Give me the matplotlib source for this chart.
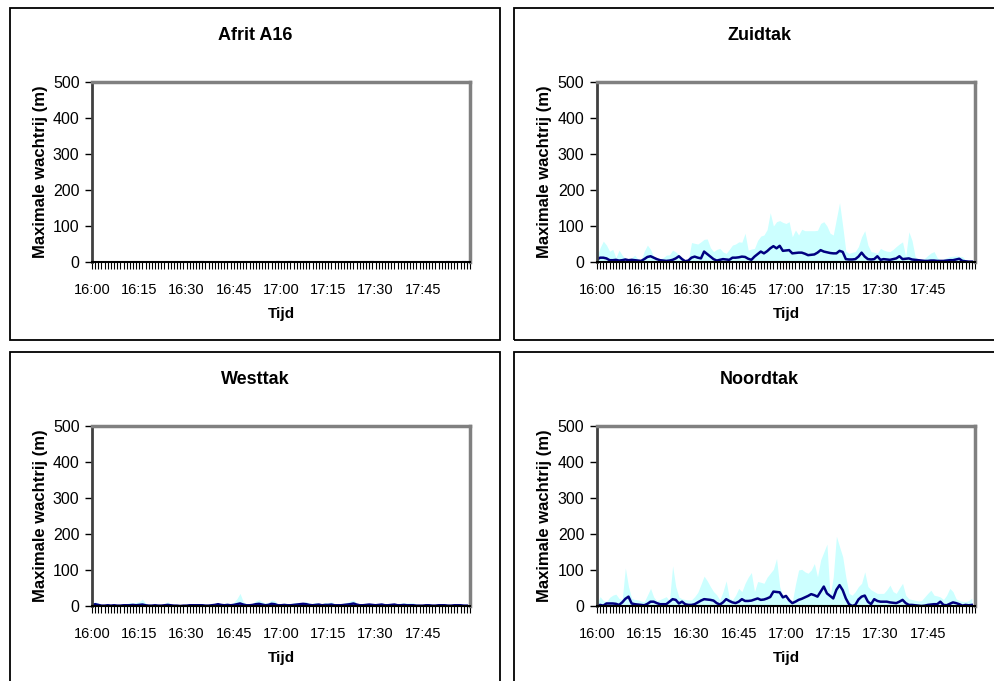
import numpy as np
import matplotlib
matplotlib.use('Agg')
import matplotlib.pyplot as plt
from matplotlib.patches import Rectangle

plt.rcParams['font.family'] = ['Liberation Sans', 'DejaVu Sans']

W, H = 994, 681

tick_labels = ['16:00', '16:15', '16:30', '16:45', '17:00', '17:15', '17:30', '17:45']
titles = ['Afrit A16', 'Zuidtak', 'Westtak', 'Noordtak']

# maximale wachtrij per minuut (vlak) en gemiddelde (lijn); Afrit A16 heeft alleen losse waarnemingen
nan = float('nan')
afrit_max = [0]*35 + [2] + [0]*23 + [2] + [0]*3 + [2] + [0]*25 + [2] + [0]*23 + [2] + [0]*4 + [2] + [0]
afrit_avg = [nan]*35 + [1] + [nan]*23 + [1] + [nan]*3 + [1] + [nan]*25 + [1] + [nan]*23 + [1] + [nan]*4 + [1] + [nan]

zuid_max = [15, 40, 58, 47, 30, 35, 12, 33, 19, 10, 5, 12, 19, 8, 5, 30, 47, 35, 15, 10,
            8, 12, 19, 20, 33, 28, 20, 6, 4, 5, 54, 52, 50, 56, 63, 64, 40, 29, 35, 38,
            28, 24, 35, 47, 50, 56, 55, 80, 33, 36, 38, 60, 72, 75, 90, 137, 100, 112, 115, 110,
            107, 112, 70, 89, 75, 91, 87, 87, 87, 87, 88, 107, 112, 100, 80, 75, 120, 165, 100, 30,
            24, 27, 29, 43, 70, 87, 47, 29, 27, 24, 38, 33, 30, 29, 35, 43, 50, 56, 15, 84,
            60, 15, 8, 6, 10, 18, 25, 29, 12, 5, 8, 12, 15, 16, 17, 16, 15, 5, 4, 3]
zuid_avg = [7, 12, 12, 10, 5, 5, 6, 4, 5, 7, 5, 6, 5, 4, 3, 8, 14, 16, 12, 8,
            5, 4, 3, 4, 6, 10, 16, 8, 2, 4, 12, 15, 12, 10, 29, 22, 15, 8, 4, 6,
            8, 7, 6, 12, 12, 13, 15, 14, 9, 6, 15, 22, 29, 24, 30, 38, 44, 38, 45, 31,
            32, 33, 24, 25, 26, 26, 23, 19, 20, 21, 26, 33, 29, 27, 25, 24, 24, 31, 28, 8,
            7, 7, 8, 15, 26, 15, 8, 7, 8, 16, 6, 8, 7, 6, 8, 10, 16, 8, 9, 10,
            7, 6, 5, 4, 3, 3, 4, 4, 3, 3, 3, 4, 5, 5, 7, 9, 3, 2, 1, 1]

west_max = [5, 12, 8, 4, 3, 6, 3, 5, 4, 3, 4, 6, 10, 8, 10, 12, 19, 8, 4, 3,
            5, 4, 3, 6, 12, 5, 3, 4, 2, 3, 3, 5, 4, 6, 7, 7, 4, 3, 5, 6,
            7, 5, 7, 8, 6, 10, 20, 35, 12, 6, 5, 8, 14, 18, 12, 8, 10, 17, 15, 6,
            4, 8, 7, 6, 9, 10, 9, 10, 12, 8, 7, 10, 8, 6, 10, 9, 12, 6, 5, 6,
            8, 10, 14, 17, 8, 5, 4, 6, 7, 6, 5, 6, 8, 5, 4, 6, 7, 6, 8, 9,
            8, 9, 9, 5, 3, 2, 4, 5, 4, 3, 4, 5, 6, 4, 3, 4, 5, 6, 4, 3]
west_avg = [2, 5, 3, 1, 1, 2, 1, 2, 1, 1, 2, 2, 2, 3, 2, 3, 4, 2, 1, 1,
            2, 1, 1, 2, 3, 2, 1, 1, 0, 1, 1, 2, 2, 2, 2, 2, 1, 1, 2, 3,
            5, 3, 2, 3, 2, 3, 5, 7, 4, 2, 2, 3, 5, 6, 4, 2, 3, 6, 5, 2,
            2, 3, 2, 2, 3, 4, 5, 6, 5, 3, 2, 3, 4, 2, 3, 3, 4, 2, 2, 2,
            3, 4, 5, 7, 4, 2, 2, 3, 4, 3, 2, 3, 4, 2, 2, 3, 4, 2, 2, 3,
            2, 2, 2, 1, 1, 1, 2, 2, 1, 1, 2, 2, 2, 1, 1, 2, 2, 2, 1, 1]

noord_max = [7, 26, 15, 12, 24, 30, 33, 21, 18, 106, 54, 21, 18, 17, 14, 12, 30, 49, 25, 14,
             18, 22, 26, 14, 112, 54, 25, 20, 18, 17, 17, 26, 38, 60, 83, 70, 54, 40, 31, 17,
             40, 70, 22, 17, 30, 49, 40, 63, 80, 93, 40, 68, 66, 63, 80, 91, 102, 132, 54, 30,
             18, 14, 12, 60, 100, 102, 95, 91, 100, 118, 81, 128, 150, 172, 26, 81, 194, 165, 137, 80,
             35, 30, 40, 54, 63, 95, 54, 45, 40, 35, 35, 35, 45, 58, 40, 35, 50, 63, 30, 20,
             18, 16, 14, 15, 25, 35, 44, 30, 28, 25, 18, 30, 49, 40, 20, 15, 13, 12, 15, 22]
noord_avg = [0, 3, 1, 7, 7, 7, 6, 3, 10, 20, 26, 7, 5, 4, 3, 2, 6, 12, 12, 8,
             5, 5, 5, 12, 19, 17, 7, 12, 5, 3, 3, 5, 10, 15, 19, 18, 17, 15, 8, 4,
             10, 19, 14, 10, 8, 12, 19, 14, 14, 15, 18, 21, 17, 18, 21, 25, 40, 39, 38, 24,
             28, 16, 8, 12, 17, 20, 24, 28, 33, 30, 26, 40, 54, 35, 28, 21, 45, 58, 44, 21,
             5, 0, 3, 18, 26, 29, 12, 5, 19, 14, 12, 12, 12, 10, 9, 8, 12, 17, 8, 3,
             3, 2, 1, 0, 1, 3, 4, 5, 5, 12, 3, 2, 6, 10, 8, 5, 1, 3, 2, 3]

series = [(afrit_max, afrit_avg), (zuid_max, zuid_avg), (west_max, west_avg), (noord_max, noord_avg)]

fig = plt.figure(figsize=(W/100, H/100), dpi=100)

def px_axes(left, top, right, bottom):
    return fig.add_axes([left/W, 1 - bottom/H, (right-left)/W, (bottom-top)/H])

# panel frames: (left, top, right, bottom) in pixels
panels = [(10, 8, 500, 340), (514, 8, 1010, 340), (10, 352, 500, 700), (514, 352, 1010, 700)]
plot_boxes = [(92, 82, 470, 262), (597, 82, 975, 262), (92, 426, 470, 606), (597, 426, 975, 606)]

for i in range(4):
    pl, pt, pr, pb = panels[i]
    fig.patches.append(Rectangle((pl/W, 1 - pb/H), (pr-pl)/W, (pb-pt)/H, transform=fig.transFigure,
                                 fill=False, edgecolor='black', linewidth=1.3))
    fig.text((pl + 245)/W, 1 - (pt + 27)/H, titles[i], ha='center', va='center',
             fontsize=13, fontweight='bold')

    l, t, r, b = plot_boxes[i]
    ax = px_axes(l, t, r, b)
    mx, av = series[i]
    x = np.arange(len(mx))
    ax.fill_between(x, 0, mx, color='#CCFFFF', linewidth=0, zorder=1)
    if i == 0:
        ax.plot(x, av, color='#000080', linestyle='none', marker='_', markersize=3, markeredgewidth=1.5, zorder=2)
    else:
        ax.plot(x, av, color='#000080', linewidth=1.8, zorder=2)

    ax.set_xlim(0, 120)
    ax.set_ylim(0, 500)
    ax.set_yticks([0, 100, 200, 300, 400, 500])
    ax.set_xticks(np.arange(0, 106, 15))
    ax.set_xticklabels(tick_labels)
    ax.set_xticks(np.arange(0, 121, 1), minor=True)
    ax.tick_params(axis='y', direction='out', length=5, width=1, pad=4, labelsize=11.5)
    ax.tick_params(axis='x', which='both', direction='out', length=5, width=0.8, pad=10, labelsize=10.5)

    for side in ['top', 'right']:
        ax.spines[side].set_color('#808080')
        ax.spines[side].set_linewidth(2.5)
    ax.spines['left'].set_color('#404040')
    ax.spines['left'].set_linewidth(2)
    ax.spines['bottom'].set_color('black')
    ax.spines['bottom'].set_linewidth(1.5)
    for s in ax.spines.values():
        s.set_zorder(5)

    ax.set_ylabel('Maximale wachtrij (m)', fontsize=12, fontweight='bold')
    ax.yaxis.set_label_coords(-(l - (pl + 31))/(r - l), 0.5)
    ax.yaxis.label.set_va('center')
    ax.set_xlabel('Tijd', fontsize=11, fontweight='bold')
    ax.xaxis.set_label_coords(0.5, -52/(b - t))
    ax.xaxis.label.set_va('center')

fig.savefig('out.png', dpi=100)
